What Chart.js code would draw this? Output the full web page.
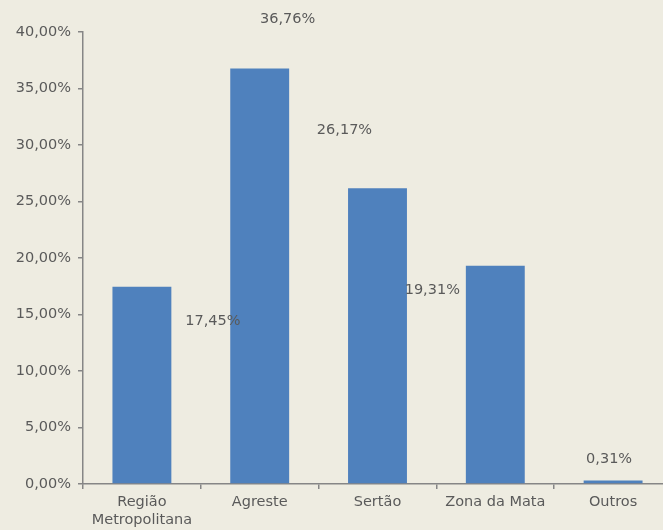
<!DOCTYPE html>
<html>
<head>
<meta charset="utf-8">
<script src="https://cdn.jsdelivr.net/npm/chart.js@4.4.0/dist/chart.umd.min.js"></script>
<style>
  html, body { margin: 0; padding: 0; background: #eeece1; overflow: hidden; }
  #wrap { width: 673px; height: 530px; }
</style>
</head>
<body>
<div id="wrap"><canvas id="chart"></canvas></div>
<script>
'use strict';

const categories = [['Região', 'Metropolitana'], 'Agreste', 'Sertão', 'Zona da Mata', 'Outros'];
const shares = [17.45, 36.76, 26.17, 19.31, 0.31];
const yTicks = [0, 5, 10, 15, 20, 25, 30, 35, 40];

// where each value label sits relative to the top of its bar (px)
const labelShift = [[71, 34], [28, -49], [-33, -58], [-63, 24], [-4, -21]];

const fmt = (v) => v.toFixed(2).replace('.', ',') + '%';
const textColor = '#5a5a5a';
const axisColor = '#868686';
const font = { family: 'DejaVu Sans', size: 14.5, lineHeight: 1.2 };

const valueLabels = {
  id: 'valueLabels',
  afterDatasetsDraw(chart) {
    const { ctx } = chart;
    const meta = chart.getDatasetMeta(0);
    ctx.save();
    ctx.font = `${font.size}px ${font.family}`;
    ctx.fillStyle = textColor;
    ctx.textAlign = 'center';
    ctx.textBaseline = 'middle';
    meta.data.forEach((bar, i) => {
      const [dx, dy] = labelShift[i];
      ctx.fillText(fmt(shares[i]), bar.x + dx, bar.y + dy);
    });
    ctx.restore();
  },
};

new Chart(document.querySelector('#chart'), {
  type: 'bar',
  data: {
    labels: categories,
    datasets: [{
      data: shares,
      backgroundColor: '#4f81bd',
      barPercentage: 0.5,
      categoryPercentage: 1,
    }],
  },
  plugins: [valueLabels],
  options: {
    responsive: true,
    maintainAspectRatio: false,
    animation: false,
    layout: { padding: { top: 32, right: 1, left: 0, bottom: 0 } },
    plugins: {
      legend: { display: false },
      tooltip: { enabled: false },
    },
    scales: {
      x: {
        grid: {
          offset: true,
          drawOnChartArea: false,
          tickLength: 5,
          color: axisColor,
          lineWidth: 1.5,
        },
        border: { color: axisColor, width: 1.5 },
        ticks: { color: textColor, font, padding: 5, maxRotation: 0 },
        afterFit: (scale) => { scale.height = 46; },
      },
      y: {
        min: 0,
        max: 40,
        afterBuildTicks: (scale) => { scale.ticks = yTicks.map((v) => ({ value: v })); },
        grid: {
          drawOnChartArea: false,
          tickLength: 5,
          color: axisColor,
          lineWidth: 1.5,
        },
        border: { color: axisColor, width: 1.5 },
        ticks: { color: textColor, font, padding: 7, callback: (v) => fmt(v) },
        afterFit: (scale) => { scale.width = 83; },
      },
    },
  },
});
</script>
</body>
</html>
